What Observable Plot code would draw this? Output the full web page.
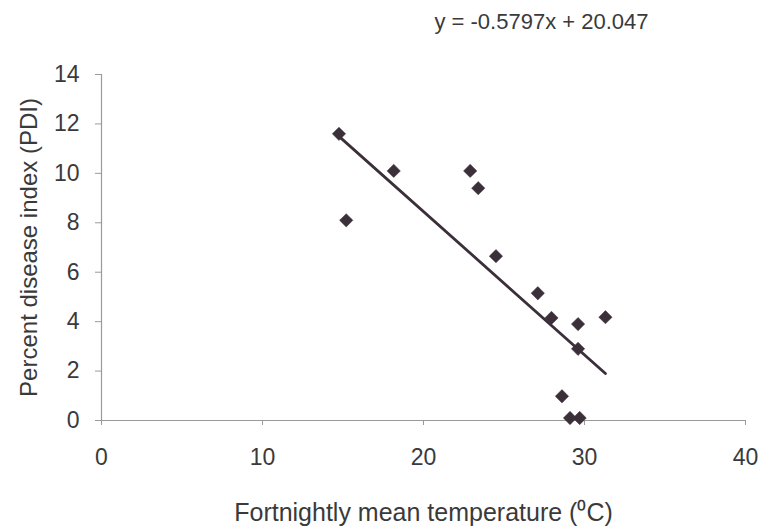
<!DOCTYPE html>
<html>
<head>
<meta charset="utf-8">
<script src="https://cdn.jsdelivr.net/npm/d3@7"></script>
<script src="https://cdn.jsdelivr.net/npm/@observablehq/plot@0.6"></script>
<style>
  html, body { margin: 0; padding: 0; background: #fff; }
  svg { display: block; }
</style>
</head>
<body>
<div id="chart"></div>
<script>
const temperature = [14.75, 15.2, 18.15, 22.9, 23.4, 24.5, 27.1, 27.95, 29.6, 31.3, 29.6, 28.6, 29.1, 29.7];
const pdi         = [11.6,  8.1,  10.1,  10.1, 9.4,  6.65, 5.15, 4.15, 3.9,  4.18, 2.9,  0.98, 0.1,  0.1];
const slope = -0.5797;
const intercept = 20.047;
const xTicks = [0, 10, 20, 30, 40];
const yTicks = [0, 2, 4, 6, 8, 10, 12, 14];
const equationLabel = "y = -0.5797x + 20.047";
const xTitle = "Fortnightly mean temperature (⁰C)";
const yTitle = "Percent disease index (PDI)";

const points = temperature.map((t, i) => ({x: t, y: pdi[i]}));
const [xmin, xmax] = d3.extent(temperature);
const fit = [xmin, xmax].map(x => ({x, y: slope * x + intercept}));

const ink = "#3b2f3a";
const axisGray = "#9a9a9a";
const textGray = "#3a3a3a";

const chart = Plot.plot({
  width: 762,
  height: 532,
  marginLeft: 101,
  marginRight: 17,
  marginTop: 74,
  marginBottom: 112,
  style: {fontFamily: "'Liberation Sans', Arial, sans-serif", background: "#fff", overflow: "visible"},
  x: {domain: [0, 40]},
  y: {domain: [0, 14]},
  marks: [
    Plot.ruleX([0], {y1: 0, y2: 14, stroke: axisGray, strokeWidth: 1.2}),
    Plot.ruleY([0], {x1: 0, x2: 40, stroke: axisGray, strokeWidth: 1.2}),
    Plot.axisY({ticks: yTicks, tickSize: 6, tickPadding: 16, stroke: axisGray, fill: textGray, fontSize: 23, label: null}),
    Plot.axisX({ticks: xTicks, tickSize: 5, tickPadding: 23, stroke: axisGray, fill: textGray, fontSize: 23, label: null}),
    Plot.line(fit, {x: "x", y: "y", stroke: ink, strokeWidth: 2.8}),
    Plot.dot(points, {x: "x", y: "y", symbol: "diamond2", r: 6, fill: ink, stroke: ink, strokeWidth: 0.5}),
    Plot.text([equationLabel], {frameAnchor: "top", text: d => d, dx: 118, dy: -61, fontSize: 22, fill: textGray}),
    Plot.text([xTitle], {frameAnchor: "bottom", text: d => d, dx: 0, dy: 100, fontSize: 25, fill: textGray}),
    Plot.text([yTitle], {frameAnchor: "left", textAnchor: "middle", text: d => d, dx: -72, rotate: -90, fontSize: 24, fill: textGray})
  ]
});
document.getElementById("chart").appendChild(chart);
</script>
</body>
</html>
